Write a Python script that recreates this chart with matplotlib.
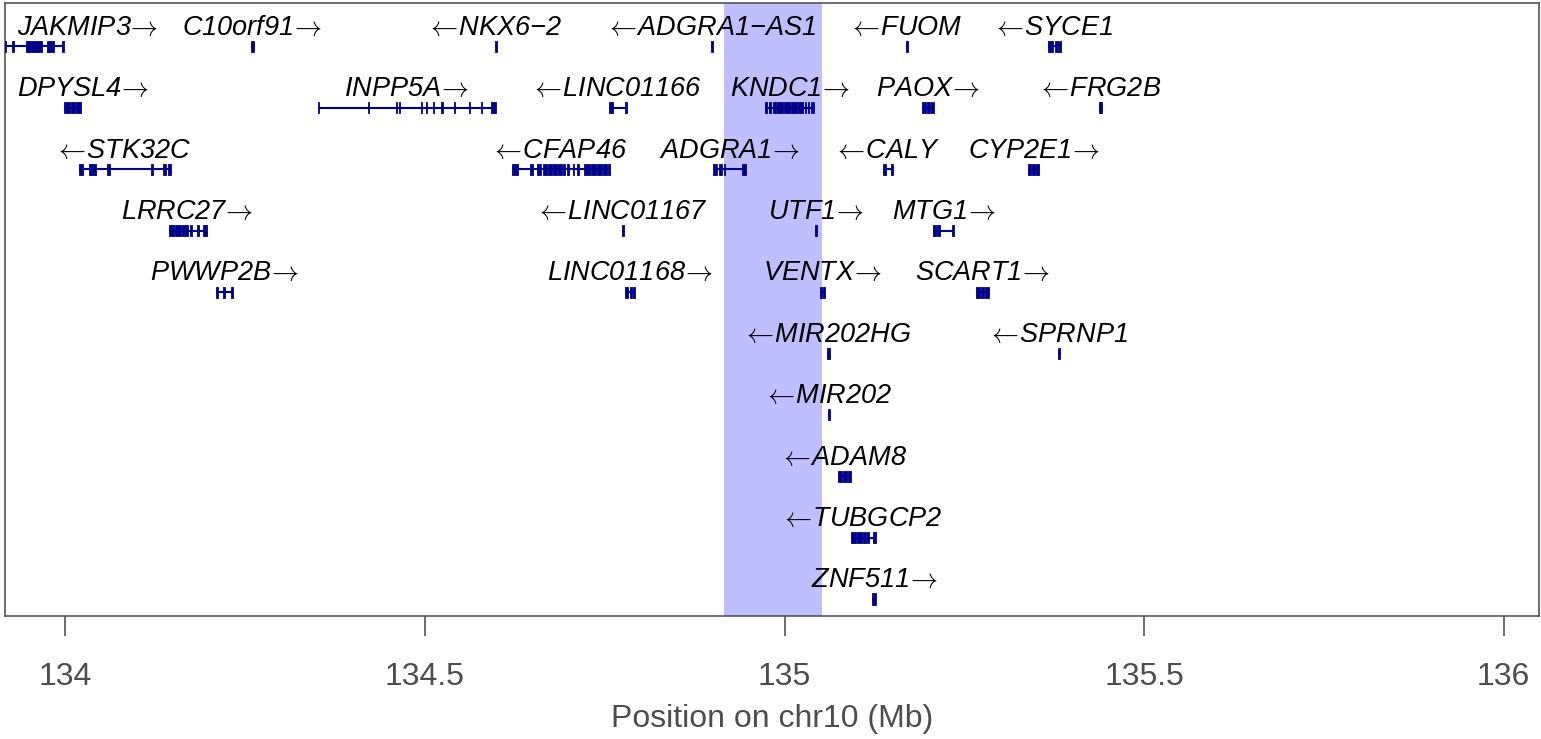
import matplotlib.pyplot as plt

plt.rcParams['font.family'] = ['Liberation Sans', 'DejaVu Sans']
plt.rcParams['mathtext.fontset'] = 'cm'

# gene track around the chr10 locus (positions in Mb)
gene_names = ['JAKMIP3', 'C10orf91', 'NKX6\u22122', 'ADGRA1\u2212AS1', 'FUOM', 'SYCE1',
              'DPYSL4', 'INPP5A', 'LINC01166', 'KNDC1', 'PAOX', 'FRG2B',
              'STK32C', 'CFAP46', 'ADGRA1', 'CALY', 'CYP2E1',
              'LRRC27', 'LINC01167', 'UTF1', 'MTG1',
              'PWWP2B', 'LINC01168', 'VENTX', 'SCART1',
              'MIR202HG', 'SPRNP1', 'MIR202', 'ADAM8', 'TUBGCP2', 'ZNF511']
gene_rows = [0, 0, 0, 0, 0, 0,
             1, 1, 1, 1, 1, 1,
             2, 2, 2, 2, 2,
             3, 3, 3, 3,
             4, 4, 4, 4,
             5, 5, 6, 7, 8, 9]
gene_strands = ['+', '+', '-', '-', '-', '-',
                '+', '+', '-', '+', '+', '-',
                '-', '-', '+', '-', '+',
                '+', '-', '+', '+',
                '+', '+', '+', '+',
                '-', '-', '-', '-', '-', '+']
gene_exons = [
    [(133.9165, 133.9179), (133.9262, 133.9290), (133.9457, 133.9680), (133.9749, 133.9847), (133.9958, 133.9986)],
    [(134.2575, 134.2617)],
    [(134.5971, 134.5999)],
    [(134.8977, 134.9005)],
    [(135.1691, 135.1719)],
    [(135.3668, 135.3737), (135.3765, 135.3807), (135.3821, 135.3848)],
    [(133.9986, 134.0056), (134.0070, 134.0139), (134.0153, 134.0209)],
    [(134.3507, 134.3528), (134.4203, 134.4217), (134.4593, 134.4607), (134.4635, 134.4649),
     (134.4948, 134.4962), (134.5017, 134.5031), (134.5108, 134.5122), (134.5219, 134.5247),
     (134.5400, 134.5414), (134.5616, 134.5630), (134.5783, 134.5797), (134.5915, 134.5985)],
    [(134.7558, 134.7613), (134.7780, 134.7808)],
    [(134.9729, 134.9757), (134.9784, 134.9812), (134.9840, 134.9882), (134.9896, 134.9979),
     (134.9993, 135.0077), (135.0091, 135.0174), (135.0188, 135.0258), (135.0285, 135.0299),
     (135.0327, 135.0341), (135.0369, 135.0383), (135.0397, 135.0411)],
    [(135.1914, 135.1969), (135.1983, 135.2025), (135.2039, 135.2081)],
    [(135.4377, 135.4419)],
    [(134.0195, 134.0237), (134.0334, 134.0431), (134.0571, 134.0626), (134.1190, 134.1211),
     (134.1350, 134.1392), (134.1420, 134.1461)],
    [(134.6207, 134.6291), (134.6458, 134.6500), (134.6555, 134.6611), (134.6639, 134.6695),
     (134.6708, 134.6764), (134.6778, 134.6834), (134.6848, 134.6903), (134.6917, 134.6945),
     (134.6973, 134.7001), (134.7056, 134.7070), (134.7112, 134.7140), (134.7210, 134.7293),
     (134.7307, 134.7377), (134.7390, 134.7460), (134.7474, 134.7530), (134.7544, 134.7571)],
    [(134.9005, 134.9061), (134.9088, 134.9130), (134.9158, 134.9172), (134.9409, 134.9464)],
    [(135.1371, 135.1413), (135.1482, 135.1510)],
    [(135.3389, 135.3431), (135.3445, 135.3487), (135.3500, 135.3542)],
    [(134.1434, 134.1503), (134.1517, 134.1601), (134.1614, 134.1698), (134.1726, 134.1754),
     (134.1823, 134.1851), (134.1907, 134.1962)],
    [(134.7738, 134.7766)],
    [(135.0425, 135.0452)],
    [(135.2067, 135.2109), (135.2123, 135.2164), (135.2331, 135.2359)],
    [(134.2088, 134.2116), (134.2185, 134.2213), (134.2296, 134.2324)],
    [(134.7780, 134.7822), (134.7850, 134.7878), (134.7892, 134.7919)],
    [(135.0494, 135.0522), (135.0536, 135.0564)],
    [(135.2665, 135.2721), (135.2735, 135.2777), (135.2791, 135.2846)],
    [(135.0592, 135.0633)],
    [(135.3807, 135.3835)],
    [(135.0606, 135.0633)],
    [(135.0745, 135.0800), (135.0814, 135.0870), (135.0884, 135.0926)],
    [(135.0926, 135.0995), (135.1009, 135.1079), (135.1093, 135.1134), (135.1148, 135.1176),
     (135.1232, 135.1274)],
    [(135.1218, 135.1274)],
]

highlight = (134.9158, 135.0522)
x_ticks = [134, 134.5, 135, 135.5, 136]
x_tick_labels = ['134', '134.5', '135', '135.5', '136']

navy = '#00008B'
grey = '#555555'

fig = plt.figure(figsize=(15.41, 7.39), dpi=100)
ax = fig.add_axes([5 / 1541, 1 - 616 / 739, 1534 / 1541, 613 / 739])

ax.axvspan(highlight[0], highlight[1], color='#BFBFFF', lw=0, zorder=0)

labels = []
for name, row, strand, ex in zip(gene_names, gene_rows, gene_strands, gene_exons):
    y = -row
    start = min(s for s, e in ex)
    end = max(e for s, e in ex)
    ax.plot([start, end], [y, y], color=navy, lw=1.5, solid_capstyle='butt', zorder=2)
    ax.broken_barh([(s, e - s) for s, e in ex], (y - 0.09, 0.18),
                   facecolors=navy, edgecolors=navy, lw=0.6, zorder=3)
    # mathtext pads arrows like relations, pull the padding back in
    if strand == '+':
        label = name + r'$\!\rightarrow\!$'
    else:
        label = r'$\!\leftarrow\!$' + name
    t = ax.text((start + end) / 2, y + 0.19, label, ha='center', va='baseline',
                style='italic', fontsize=19.5, color='black', zorder=4)
    labels.append(t)

ax.set_xlim(133.9159, 136.0491)
ax.set_ylim(-9.277, 0.708)
ax.set_yticks([])
ax.set_xticks(x_ticks)
ax.set_xticklabels(x_tick_labels)
ax.tick_params(axis='x', length=14.4, width=1.2, color=grey, labelsize=23,
               labelcolor='#4D4D4D', pad=19)
for sp in ax.spines.values():
    sp.set_color(grey)
    sp.set_linewidth(1.2)

ax.set_xlabel('Position on chr10 (Mb)', fontsize=23, color='#4D4D4D')
ax.xaxis.set_label_coords(0.5, -(719 - 616) / 613)
ax.xaxis.label.set_va('center')

# keep labels inside the panel (shift those that hit the edge)
fig.canvas.draw()
renderer = fig.canvas.get_renderer()
axbb = ax.get_window_extent(renderer)
inv = ax.transData.inverted()
for t in labels:
    bb = t.get_window_extent(renderer)
    shift = 0
    if bb.x0 < axbb.x0 + 12:
        shift = axbb.x0 + 12 - bb.x0
    elif bb.x1 > axbb.x1 - 12:
        shift = axbb.x1 - 12 - bb.x1
    if shift:
        px, py = ax.transData.transform(t.get_position())
        t.set_position(inv.transform((px + shift, py)))

fig.savefig('out.png', dpi=100)
